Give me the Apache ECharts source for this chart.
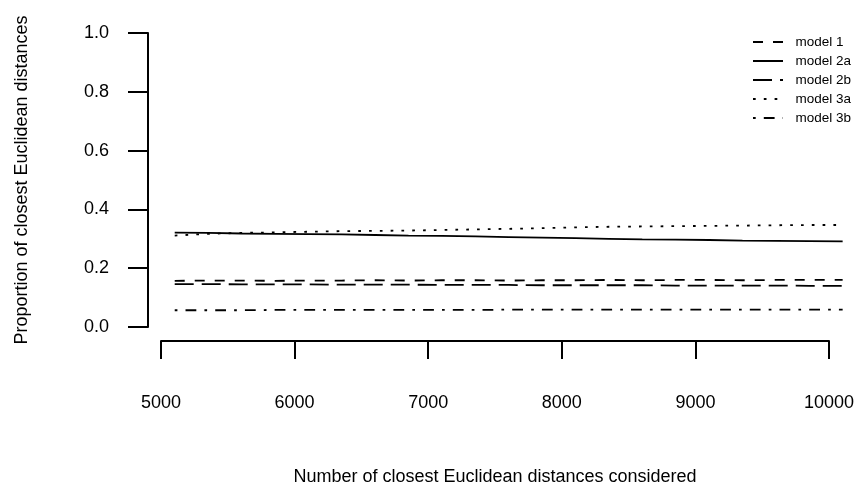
<!DOCTYPE html>
<html>
<head>
<meta charset="utf-8">
<script src="https://cdn.jsdelivr.net/npm/echarts@6/dist/echarts.min.js"></script>
<style>html,body{margin:0;padding:0;background:#fff}#c{width:864px;height:489px}</style>
</head>
<body>
<div id="c"></div>
<script>
const xValues = [5100,5350,5600,5850,6100,6350,6600,6850,7100,7350,7600,7850,8100,8350,8600,8850,9100,9350,9600,9850,10100];
const model1  = [0.157,0.158,0.158,0.157,0.158,0.158,0.159,0.158,0.159,0.159,0.158,0.159,0.159,0.160,0.159,0.160,0.160,0.159,0.160,0.160,0.160];
const model2a = [0.321,0.320,0.318,0.317,0.316,0.315,0.313,0.311,0.310,0.308,0.306,0.304,0.302,0.300,0.298,0.297,0.296,0.294,0.293,0.292,0.291];
const model2b = [0.146,0.146,0.145,0.145,0.145,0.144,0.144,0.144,0.143,0.143,0.143,0.142,0.142,0.142,0.142,0.141,0.141,0.141,0.141,0.140,0.140];
const model3a = [0.311,0.317,0.320,0.322,0.324,0.326,0.327,0.328,0.330,0.332,0.334,0.336,0.339,0.341,0.342,0.343,0.344,0.345,0.346,0.347,0.347];
const model3b = [0.057,0.057,0.057,0.058,0.058,0.058,0.058,0.058,0.058,0.058,0.059,0.059,0.059,0.059,0.059,0.059,0.059,0.059,0.059,0.059,0.059];
const seriesNames = ['model 1','model 2a','model 2b','model 3a','model 3b'];
const yTicks = [0, 0.2, 0.4, 0.6, 0.8, 1.0];
const xTicks = [5000, 6000, 7000, 8000, 9000, 10000];

const FONT = 'Liberation Sans, Arial, Helvetica, sans-serif';
const dashes = [[10,10], 'solid', [19,8], [2.7,8.1], [2.7,8.1,10.8,8.1]];
const dataSets = [model1, model2a, model2b, model3a, model3b];

const chart = echarts.init(document.getElementById('c'), null, {renderer:'canvas'});
const series = seriesNames.map((name, i) => ({
  name: name,
  type: 'line',
  xAxisIndex: 0,
  yAxisIndex: 0,
  symbol: 'none',
  silent: true,
  animation: false,
  color: '#000',
  itemStyle: {color: '#000'},
  lineStyle: {color:'#000', width: 1.8, type: dashes[i], cap: 'butt'},
  data: xValues.map((x, k) => [x, dataSets[i][k]])
}));

chart.setOption({
  animation: false,
  backgroundColor: '#fff',
  color: ['#000'],
  textStyle: {fontFamily: FONT, color: '#000'},
  grid: [
    {left: 148, top: 33, width: 708, height: 294, containLabel: false},
    {left: 161, top: 340, width: 668, height: 1, containLabel: false}
  ],
  legend: {
    orient: 'vertical',
    left: 752,
    top: 35,
    padding: 0,
    itemWidth: 30,
    itemHeight: 14,
    itemGap: 5,
    data: seriesNames,
    formatter: n => '  ' + n,
    itemStyle: {opacity: 0},
    textStyle: {fontFamily: FONT, fontSize: 13.5, color: '#000'},
    selectedMode: false
  },
  xAxis: [
    {gridIndex: 0, type: 'value', min: 4900, max: 10200, show: false},
    {gridIndex: 1, type: 'value', min: xTicks[0], max: xTicks[xTicks.length-1], interval: 1000,
     position: 'bottom',
     axisLine: {show: true, lineStyle: {color:'#000', width: 2}},
     axisTick: {show: true, inside: false, length: 18, lineStyle: {color:'#000', width: 2}},
     axisLabel: {show: true, margin: 53, fontSize: 18, fontFamily: FONT, color:'#000',
                 formatter: v => String(v)},
     splitLine: {show: false},
     name: 'Number of closest Euclidean distances considered',
     nameLocation: 'middle',
     nameGap: 127,
     nameTextStyle: {fontSize: 18, fontFamily: FONT, color:'#000'}
    }
  ],
  yAxis: [
    {gridIndex: 0, type: 'value', min: yTicks[0], max: yTicks[yTicks.length-1], interval: 0.2,
     position: 'left',
     axisLine: {show: true, lineStyle: {color:'#000', width: 2}},
     axisTick: {show: true, inside: false, length: 20, lineStyle: {color:'#000', width: 2}},
     axisLabel: {show: true, margin: 39, fontSize: 18, fontFamily: FONT, color:'#000',
                 formatter: v => v.toFixed(1)},
     splitLine: {show: false},
     name: 'Proportion of closest Euclidean distances',
     nameLocation: 'middle',
     nameGap: 117,
     nameTextStyle: {fontSize: 18, fontFamily: FONT, color:'#000'}
    },
    {gridIndex: 1, type: 'value', show: false}
  ],
  series: series
});
</script>
</body>
</html>
